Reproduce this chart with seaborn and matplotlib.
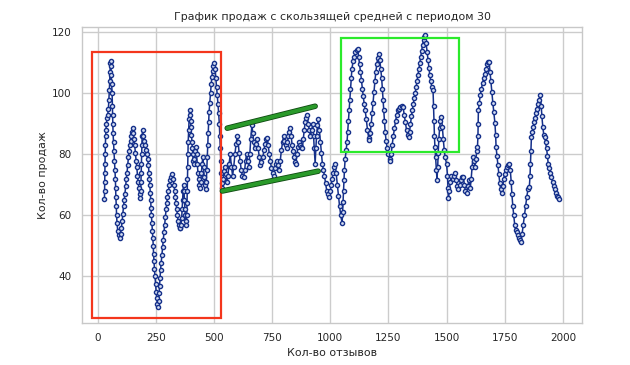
"""Sales vs reviews with a 30-period moving average, annotated regions."""

import pandas as pd
import seaborn as sns
import matplotlib.pyplot as plt
from matplotlib.patches import Rectangle
import matplotlib.patheffects as pe

# moving average of sales (period 30)
reviews = [
    29, 29.6, 30.2, 30.8, 31.4, 32, 33, 34, 35.5, 37.5, 40, 43, 46, 48, 50, 51.5, 53, 54.5, 56,
    57, 58, 60, 62, 63, 64, 65, 66, 68, 70, 72, 74, 76, 77, 78, 80, 81, 83, 86, 90, 94,
    98, 102, 105, 108, 111, 114, 117, 120, 123, 126, 129, 132, 135, 138, 141, 144, 147, 150,
    153, 156, 159, 162, 165, 168, 171, 174, 177, 180, 183, 185, 186, 187, 188, 189, 190, 191, 193,
    196, 199, 203, 207, 211, 215, 218, 220, 222, 224, 226, 228, 229, 231, 233, 235, 237, 239,
    240, 242, 244, 246, 249, 251, 254, 257, 259.5,
    262, 264, 266, 268, 270, 273, 276, 279, 282, 285, 288, 291, 294, 297, 300, 304, 308, 312, 316, 320,
    324, 328, 331, 334, 337, 340, 343, 346, 349, 352, 355, 358, 361, 363, 365, 367, 369, 371, 373,
    375, 377, 379, 381, 383, 384, 385, 386, 387, 388, 389, 391, 393, 395,
    397, 399, 401, 403, 405, 407, 409, 411, 413, 416, 419, 422, 425, 428, 431, 434, 437, 440, 443,
    446, 449, 452, 455, 458, 461, 464, 467, 469, 471, 473, 475, 477, 479, 482, 485, 488, 491, 494,
    497, 501,
    505, 508, 511, 514, 517, 520, 523, 525, 527, 529, 531, 533, 535,
    540, 544, 548, 552, 556, 560, 565, 570, 575, 580, 585, 590, 595, 600, 604, 608, 612, 617, 622,
    627, 632, 636, 640, 645, 650, 654, 658, 663, 667, 671, 675, 680, 685, 690, 695, 699, 704, 710,
    715, 720, 725, 729, 733, 738, 742, 747, 752, 756, 761, 766, 770, 775, 780, 785, 790, 795, 799,
    803, 808, 812, 816, 820, 824, 828, 832, 836, 840, 845, 849, 852, 857, 861, 865, 870, 875, 880,
    884, 888, 892, 896, 901, 905, 910, 915, 920, 925, 928, 931, 935, 938, 941, 945, 949, 953, 958,
    962, 966, 970, 975, 980, 985, 990, 996, 1000, 1004, 1008, 1012, 1017, 1021, 1025, 1030, 1035,
    1040, 1045, 1051,
    1053, 1055, 1057, 1059, 1061, 1064, 1068, 1072, 1075, 1078, 1081, 1084, 1087, 1090, 1093, 1098,
    1103, 1108, 1113, 1118, 1122, 1126, 1130, 1134, 1138, 1142, 1146, 1150, 1155, 1160, 1165, 1168,
    1172, 1176, 1180, 1184, 1188, 1192, 1196, 1200, 1204, 1209, 1213, 1217, 1221, 1224, 1227, 1230,
    1233, 1236, 1240, 1245, 1250, 1255, 1258, 1262, 1266, 1271, 1276, 1281, 1286, 1291, 1297, 1302,
    1308, 1313, 1318, 1323, 1328, 1333, 1337, 1341, 1345, 1349, 1353, 1357, 1361, 1365, 1369, 1373,
    1377, 1381, 1385, 1389, 1393, 1397, 1401, 1405, 1408, 1412, 1416, 1420, 1424, 1428, 1432, 1437,
    1442, 1444, 1446, 1448, 1450, 1453, 1456, 1459, 1462, 1464, 1467, 1470, 1474, 1478, 1482, 1486,
    1490, 1494, 1500, 1504, 1506, 1508, 1512, 1516, 1521, 1527, 1532, 1537, 1542, 1546, 1551, 1556,
    1561, 1567, 1572, 1577, 1581, 1586, 1591, 1596, 1602, 1606, 1610, 1614, 1618, 1622, 1626, 1630,
    1633, 1635, 1636, 1637, 1641, 1645, 1650, 1655, 1660, 1665, 1670, 1675, 1680, 1683, 1687, 1691,
    1695, 1699, 1703, 1708, 1711, 1713, 1717, 1721, 1725, 1729, 1733, 1738, 1742, 1746, 1750, 1755,
    1760, 1765, 1770, 1774, 1778, 1781, 1785, 1789, 1793, 1797, 1802, 1807, 1812, 1816, 1820, 1825,
    1830, 1835, 1840, 1845, 1850, 1856, 1859, 1861, 1863, 1865, 1869, 1873, 1877, 1881, 1885, 1889,
    1893, 1898, 1903, 1907, 1910, 1914, 1918, 1922, 1926, 1930, 1934, 1937, 1941, 1946, 1951, 1956,
    1961, 1966, 1971, 1976, 1980, 1985,
]

sales_ma = [
    65.5, 68, 71, 74, 77, 80, 83, 86, 88, 90, 92, 93, 95, 98, 101, 104, 107, 110, 110.6,
    109, 106, 103, 100, 96, 93, 90, 87, 84, 81, 78, 75, 72, 69, 66, 63, 60, 57.5, 55, 53.5, 52.5,
    54, 56, 58, 60.5, 63, 65, 67, 69.5, 72, 74, 76.5, 79, 81, 83, 84.5, 86, 87.5, 88.5,
    87, 85, 83, 80.5, 78, 76, 73, 71, 69, 67, 65.7, 68, 71, 74, 77, 80, 83, 86, 88,
    86, 84.5, 83, 81.5, 80, 78.5, 76.5, 74, 72, 70, 67.5, 65, 62.5, 60, 57.5, 55, 52.5, 50,
    47.5, 45, 42.5, 40, 37.5, 35, 33, 31, 30,
    32, 34.5, 37, 39.5, 42, 44.5, 47, 49.5, 52, 54.5, 57, 59.5, 62, 64, 66, 68, 70, 71.5, 72.5, 73.5,
    72, 70, 68, 66, 64, 62, 60, 58, 57, 56, 55.8, 57, 59, 62, 65, 68, 70, 68, 65,
    62, 60, 58, 57, 60, 64, 68, 72, 76, 80, 84, 88, 91.5, 94.5,
    93, 91, 89, 86.5, 84, 82, 80, 78, 77, 78.5, 81, 82.5, 80, 77, 74, 72, 70, 69, 71,
    74, 77, 79, 76, 72.5, 70, 68.5, 71, 75, 79, 83, 87, 90.5, 94, 97, 100, 103, 105.5, 107.5,
    109, 110,
    108, 105, 102, 99.5, 96.5, 93.5, 90, 86, 82, 78, 74, 70.5, 69,
    72, 74.5, 76, 73.5, 71, 73, 77, 80, 76, 73, 76, 80, 83.5, 86, 84, 80.5, 78, 75, 73,
    72.5, 75, 78, 80, 78, 76, 80, 85, 89.5, 87, 84, 82, 83.5, 85, 82, 79, 76.5, 77.5, 79,
    81.5, 83.5, 85, 85.5, 83, 80, 78, 75.5, 74, 73, 75.5, 77, 78, 76.5, 75, 78, 81.5, 84, 86,
    84.5, 83, 82, 84, 86, 87.5, 88.5, 86, 83, 81, 79, 77.5, 77, 80, 82.5, 84, 83, 82.5, 82,
    85, 88, 90.5, 92, 93, 90, 88, 86, 88, 90, 86, 82, 77, 82, 86, 89.5, 91.5, 88, 84,
    80.5, 77, 75, 73, 70.5, 68, 67, 66, 68, 70, 72, 74, 76, 77, 74, 70, 66.5,
    63, 60, 57.5,
    61, 64.5, 68, 71.5, 75, 78.5, 81.4, 84, 87.5, 91, 94.5, 98, 101.5, 105, 108, 110.5,
    112, 113.5, 114.3, 114.5, 112, 109.5, 107, 104.5, 101.5, 99, 96.5, 94.5, 91.5, 88, 85.5, 84.7,
    87, 90, 93.5, 97, 100.5, 104, 107, 109.5, 111.5, 113, 111, 108, 105, 101.5, 98, 94.5,
    91, 87.5, 84.5, 82, 80, 78.5, 78, 80, 83, 86, 88.5, 91, 93, 94.5, 95, 95.5,
    95.8, 95.5, 93, 90.5, 88, 86.5, 85.8, 87.5, 90, 92.5, 94.5, 96.5, 98.5, 100, 102, 104,
    106, 108, 110, 112, 114, 116, 117.5, 118.5, 119.2, 116.5, 113.5, 111, 108.5, 106, 104, 102,
    101, 96, 91, 86, 82.4, 79, 75, 71.6, 76, 80.5, 85, 88.5, 91, 92.3, 89, 85,
    81.5, 79, 77, 73, 69, 65.6, 68, 71, 73, 72, 73, 73.8, 71.5, 69.5, 68.5, 70,
    71.5, 72.5, 72.6, 70, 68, 67.3, 69.5, 71.5, 69, 72, 76, 79.3, 78, 76, 78.5, 81,
    82.4, 86, 90, 94.5, 97, 99.5, 101.5, 103.5, 105, 106.5, 108, 109.5, 110.2, 110.4, 107, 104,
    100.5, 97, 94, 90.3, 86.5, 82.4, 79.5, 76.5, 73.5, 70.5, 68.5, 67.3, 69.5, 72, 73.5, 75,
    76, 76.5, 77, 75, 71, 67, 63, 60, 57, 55.2, 54.5, 53.5, 52.5, 51.8, 51.3, 54,
    57, 60, 63, 66, 68.5, 69.3, 73, 77, 81, 85.7, 87.5, 89, 90.5, 92, 93.5, 95,
    96.5, 98, 99.4, 96, 92.5, 89, 86.5, 85.7, 84, 82, 79.5, 77, 75.5, 74, 72.5, 71,
    69.5, 68.5, 67.5, 66.5, 66, 65.5,
]

# highlighted areas (data coordinates)
red_box = (-23, 26.3, 555, 87.2)
green_box = (1047, 80.8, 507, 37.3)
upper_trend = ([557, 935], [88.6, 95.8])
lower_trend = ([536, 948], [68.0, 74.5])

df = pd.DataFrame({'Кол-во отзывов': reviews, 'Кол-во продаж': sales_ma})

sns.set_style('whitegrid')
plt.rcParams['font.family'] = ['DejaVu Sans']

fig = plt.figure(figsize=(6.3, 3.65), dpi=100)
ax = fig.add_axes([0.130, 0.115, 0.794, 0.812])

sns.lineplot(
    data=df, x='Кол-во отзывов', y='Кол-во продаж',
    estimator=None, sort=False, ax=ax,
    color='#15308a', linewidth=1.1,
    marker='o', markersize=3.0,
    markerfacecolor='#d3dcf0', markeredgecolor='#15308a', markeredgewidth=1.0,
)

ax.add_patch(Rectangle(red_box[:2], red_box[2], red_box[3],
                       fill=False, edgecolor='#f4361c', linewidth=1.6, zorder=5))
ax.add_patch(Rectangle(green_box[:2], green_box[2], green_box[3],
                       fill=False, edgecolor='#2bea2b', linewidth=1.6, zorder=5))
for xs, ys in (upper_trend, lower_trend):
    ax.plot(xs, ys, color='#2a9a2a', linewidth=2.8, solid_capstyle='round', zorder=6,
            path_effects=[pe.Stroke(linewidth=4.0, foreground='#0f4a12'), pe.Normal()])

ax.set_xlim(-68, 2083)
ax.set_ylim(24.7, 121.9)
ax.set_xticks([0, 250, 500, 750, 1000, 1250, 1500, 1750, 2000])
ax.set_yticks([40, 60, 80, 100, 120])

ax.set_title('График продаж с скользящей средней с периодом 30', fontsize=7.9, pad=5)
ax.set_xlabel('Кол-во отзывов', fontsize=7.9, labelpad=3)
ax.set_ylabel('Кол-во продаж', fontsize=7.9, labelpad=3)
ax.tick_params(labelsize=7.5, pad=4)

for spine in ax.spines.values():
    spine.set_edgecolor('#c8c8c8')
    spine.set_linewidth(1.0)
ax.grid(color='#cccccc', linewidth=1.0)

fig.savefig('out.png', dpi=100, facecolor='white')
